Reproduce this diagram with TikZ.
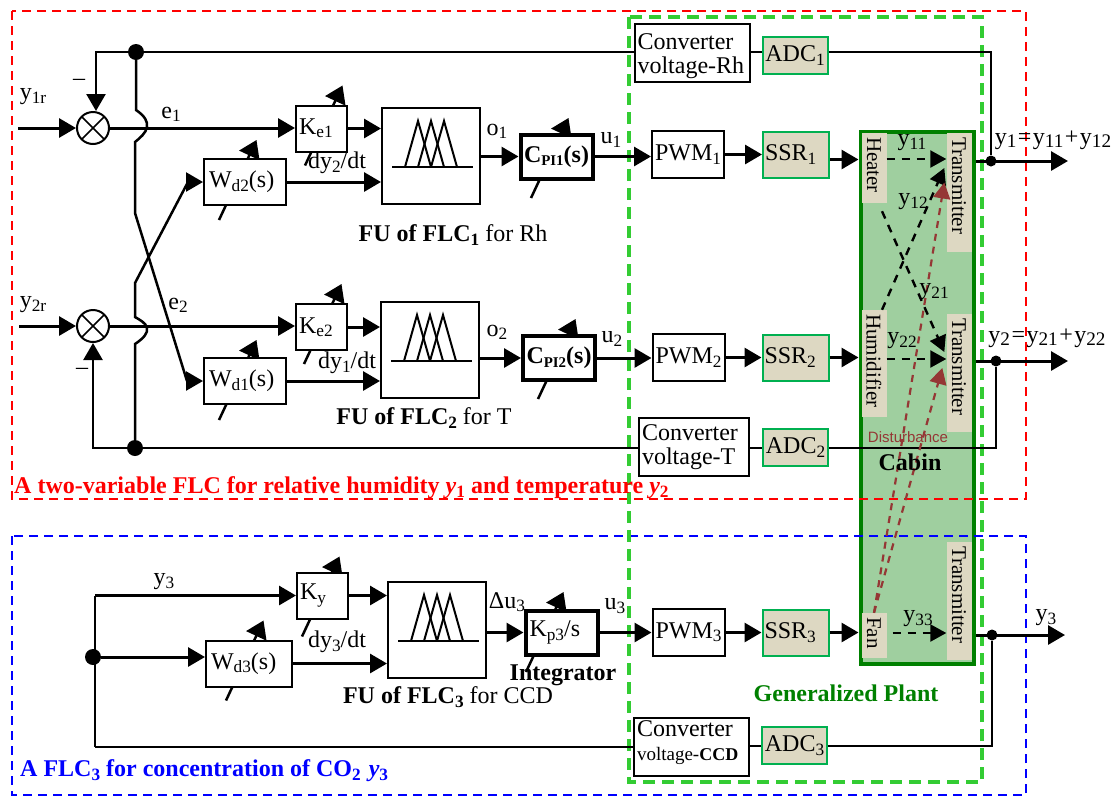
\documentclass[tikz,border=0pt]{standalone}
\usepackage{fontspec}
\setmainfont{Liberation Serif}
\newfontfamily\dstfont{Liberation Sans}
\usetikzlibrary{arrows.meta,positioning,backgrounds}
\definecolor{plantgreen}{HTML}{9FCF9F}
\definecolor{cabinedge}{HTML}{008000}
\definecolor{framegreen}{HTML}{33CC33}
\definecolor{ssrfill}{HTML}{DDD8C2}
\definecolor{ssredge}{HTML}{00B050}
\definecolor{brownred}{HTML}{953735}
\makeatletter
\newcommand{\idx}[2][.72]{\raisebox{-.3ex}{\fontsize{\strip@pt\dimexpr#1\dimexpr\f@size pt\relax\relax}{0}\selectfont #2}}
\makeatother

\begin{document}
\begin{tikzpicture}[
    x=1pt, y=-1pt,
    font=\fontsize{24}{24}\selectfont,
    box/.style={draw, line width=2pt, fill=white, align=left, inner sep=1pt},
    gainbox/.style={box, text width=45pt, inner xsep=3pt, minimum height=46pt},
    filterbox/.style={box, text width=72pt, inner xsep=5pt, minimum height=46pt},
    fubox/.style={box, minimum width=98pt, minimum height=96pt},
    pibox/.style={box, line width=4pt, align=center, minimum width=72pt, minimum height=44pt},
    pwmbox/.style={box, text width=66pt, inner xsep=3pt, minimum height=47pt},
    ssrbox/.style={box, draw=ssredge, fill=ssrfill, text width=62pt, inner xsep=2pt, minimum height=46pt},
    adcbox/.style={ssrbox, align=center, text width=61pt, minimum height=37pt},
    convbox/.style={box, text width=#1-6pt, inner xsep=3pt, minimum height=58pt},
    plantbox/.style={fill=ssrfill, rotate=-90, font=\fontsize{21}{22}\selectfont, align=left,
        inner xsep=4pt, inner ysep=0pt, minimum height=25pt, text width=#1-8pt},
    summer/.style={circle, draw, line width=2pt, fill=white, minimum size=32pt, inner sep=0pt,
        path picture={\draw[line width=1.5pt]
            (path picture bounding box.north west) -- (path picture bounding box.south east)
            (path picture bounding box.north east) -- (path picture bounding box.south west);}},
    dot/.style={circle, fill, inner sep=0pt, minimum size=#1},
    lab/.style={inner sep=0pt},
    arrow/.style={-{Triangle[length=17pt,width=19pt]}, line width=3pt},
    wire/.style={line width=2.5pt},
    feed/.style={line width=2pt},
    tune/.style={-{Triangle[length=17pt,width=22pt]}, line width=2.5pt},
    mf/.style={line width=2pt},
    inner/.style={-{Triangle[length=16pt,width=17pt]}, line width=2.4pt, dash pattern=on 8pt off 7pt},
    noise/.style={-{Triangle[length=16pt,width=17pt]}, draw=brownred, color=brownred, line width=2.2pt, dash pattern=on 7pt off 6pt},
    frame/.style={line width=2.6pt, dash pattern=on 9pt off 6pt}
]
\useasboundingbox (0,0) rectangle (1118,796);

% plant
\node[draw=cabinedge, fill=plantgreen, line width=4pt, minimum width=113pt, minimum height=532pt, inner sep=0pt] (cabin) at (917,397.5) {};
\node[plantbox=70pt] (heater) at (874,168) {Heater};
\node[plantbox=107pt] (hum) at (874,363.5) {Humidifier};
\node[plantbox=45pt] (fan) at (874,635.5) {Fan};
\node[plantbox=119pt] (tr1) at (959,192.5) {Transmitter};
\node[plantbox=118pt] (tr2) at (959,373) {Transmitter};
\node[plantbox=118pt] (tr3) at (959,601) {Transmitter};

% frames
\draw[frame, red] (12,11) rectangle (1026,499);
\draw[frame, blue] (12,536) rectangle (1026,795);
\draw[frame, framegreen, line width=4pt, dash pattern=on 12pt off 7pt] (629,17) rectangle (982,782);

% first loop
\node[summer] (sum1) at (93,128) {};
\node[gainbox] (ke1) at (321.5,128.5) {K\idx{e1}};
\node[filterbox] (wd2) at (245,182) {W\idx{d2}(s)};
\node[fubox] (fu1) at (431,156) {};
\node[pibox] (cpi1) at (556.5,156.5) {\textbf{C\idx[.62]{PI1}(s)}};
\node[pwmbox] (pwm1) at (688,154.5) {PWM\idx{1}};
\node[ssrbox, right=37pt of pwm1] (ssr1) {SSR\idx{1}};
\node[convbox=115pt] (conv1) at (692,53) {\rule{0pt}{23pt}Converter\\voltage-Rh};
\node[adcbox] (adc1) at (795,55.5) {ADC\idx{1}};

% second loop
\node[summer] (sum2) at (93,326) {};
\node[gainbox] (ke2) at (321.5,327) {K\idx{e2}};
\node[filterbox] (wd1) at (245,381) {W\idx{d1}(s)};
\node[fubox] (fu2) at (430,350) {};
\node[pibox] (cpi2) at (559,358) {\textbf{C\idx[.62]{PI2}(s)}};
\node[pwmbox] (pwm2) at (688.5,357.5) {PWM\idx{2}};
\node[ssrbox, right=36pt of pwm2] (ssr2) {SSR\idx{2}};
\node[convbox=110pt] (conv2) at (694,447) {Converter\\voltage-T};
\node[adcbox] (adc2) at (795.5,447.5) {ADC\idx{2}};

% third loop
\node[gainbox] (ky) at (322.5,595.5) {K\idx{y}};
\node[filterbox, text width=76pt] (wd3) at (249,663.5) {W\idx{d3}(s)};
\node[fubox] (fu3) at (437,630) {};
\node[pibox, align=left, text width=64pt, inner xsep=3pt] (kp3) at (561.5,632.5) {K\idx{p3}/s};
\node[pwmbox] (pwm3) at (688.5,632.5) {PWM\idx{3}};
\node[ssrbox, right=36pt of pwm3] (ssr3) {SSR\idx{3}};
\node[convbox=115pt] (conv3) at (691.5,746.5) {Converter\\{\fontsize{19}{21}\selectfont voltage-\textbf{\fontsize{18}{21}\selectfont CCD}}\rule[-12pt]{0pt}{12pt}};
\node[adcbox] (adc3) at (794.5,745.5) {ADC\idx{3}};

% junctions and free ends
\node[dot=16pt] (jfb1) at (136,52) {};
\node[dot=16pt] (jfb2) at (135,448) {};
\node[dot=16pt] (jy3) at (93,657) {};
\node[dot=11pt] (jout1) at (991,161) {};
\node[dot=11pt] (jout2) at (996,361) {};
\node[dot=11pt] (jout3) at (992,635) {};
\coordinate (jv3) at ([xshift=2pt]jy3.center);
\coordinate (in1) at (18,128);
\coordinate (in2) at (19,326);
\coordinate (out1) at (1068,161);
\coordinate (out2) at (1068,361);
\coordinate (out3) at (1065,635);

% membership functions
\foreach \f in {fu1,fu2,fu3} {
    \draw[mf] ([shift={(-39,11)}]\f.center) -- ++(81,0);
    \foreach \dx in {-13,0,13}
        \draw[mf] ([shift={(\dx-13,11)}]\f.center) -- ++(13,-46) -- ++(13,46);
}

% adjustable gains
\begin{scope}[on background layer]
\foreach \b/\dx/\dy in {ke1/-16.5/13, wd2/-26/14, wd1/-26/15, ke2/-17.5/13, cpi1/-25.5/17.5, cpi2/-21/17, ky/-20.5/17, wd3/-23/13, kp3/-35.5/15.5}
    \draw[tune] ([shift={(\dx,\dy)}]\b.south) -- ++(37.5,-80);
\end{scope}

% forward paths
\draw[arrow] (in1) -- (sum1.west);
\draw[arrow] (in2) -- (sum2.west);
\draw[arrow] (sum1.east) -- (sum1.east -| ke1.west);
\draw[arrow] (sum2.east) -- (sum2.east -| ke2.west);
\draw[arrow] (ke1.east) -- (ke1.east -| fu1.west);
\draw[arrow] (ke2.east) -- (ke2.east -| fu2.west);
\draw[arrow] (wd2.east) -- (wd2.east -| fu1.west);
\draw[arrow] (wd1.east) -- (wd1.east -| fu2.west);
\draw[arrow] (cpi1.west -| fu1.east) -- (cpi1.west);
\draw[arrow] (cpi2.west -| fu2.east) -- (cpi2.west);
\draw[arrow] (cpi1.east) -- (cpi1.east -| pwm1.west);
\draw[arrow] (cpi2.east) -- (cpi2.east -| pwm2.west);
\draw[arrow] (pwm1) -- (ssr1);
\draw[arrow] (pwm2) -- (ssr2);
\draw[arrow] ([yshift=-5pt]ssr1.east) -- ([yshift=-5pt]ssr1.east -| cabin.west);
\draw[arrow] (ssr2.east) -- (ssr2.east -| cabin.west);

\draw[arrow] (jv3 |- ky.west) -- (ky.west);
\draw[arrow] (ky.east) -- (ky.east -| fu3.west);
\draw[arrow] (jy3) -- (jy3 -| wd3.west);
\draw[arrow] (wd3.east) -- (wd3.east -| fu3.west);
\draw[arrow] (kp3.west -| fu3.east) -- (kp3.west);
\draw[arrow] (kp3.east) -- (kp3.east -| pwm3.west);
\draw[arrow] (pwm3) -- (ssr3);
\draw[arrow] (ssr3.east) -- (ssr3.east -| cabin.west);

% crossed feedback
\draw[wire, -{Triangle[length=17pt,width=19pt]}] (jfb1) -- (136,110) .. controls (145,116) and (148,122) .. (147,127) .. controls (146,133) and (140,138) .. (135,142) -- (135,213) -- (187,381) -- (wd1.west);
\draw[wire, -{Triangle[length=17pt,width=19pt]}] (jfb2) -- (135,344) .. controls (144,338) and (148,333) .. (147,328) .. controls (146,323) and (140,320) .. (135,317) -- (135,283) -- (188,182) -- (wd2.west);

% feedback lines
\draw[feed] (jfb1) -- (jfb1 -| conv1.west);
\draw[arrow, line width=2.5pt] (jfb1) -| ([xshift=3pt]sum1.north);
\draw[feed] (conv1.east |- jfb1) -- (adc1.west |- jfb1);
\draw[feed] (adc1.east |- jfb1) -| (jout1);
\draw[feed] (jfb2) -- (jfb2 -| conv2.west);
\draw[arrow, line width=2.5pt] (jfb2) -| (sum2.south);
\draw[feed] (conv2.east |- adc2.west) -- (adc2.west);
\draw[feed] (adc2.east) -| (jout2);
\draw[wire] (jv3 |- ky.west) -- (jv3 |- conv3.west);
\draw[feed] (jv3 |- conv3.west) -- (conv3.west);
\draw[feed] (conv3.east |- adc3.west) -- (adc3.west);
\draw[feed] (adc3.east) -| (jout3);

% outputs
\draw[arrow] (cabin.east |- out1) -- (out1);
\draw[arrow] (cabin.east |- out2) -- (out2);
\draw[arrow] (cabin.east |- out3) -- (out3);

% inside the cabin
\draw[inner] ([yshift=9pt]heater.north) -- ([yshift=9pt]heater.north -| tr1.south);
\draw[inner] ([yshift=4.5pt]hum.north) -- ([yshift=4.5pt]hum.north -| tr2.south);
\draw[inner] ([shift={(6,-2.5)}]fan.north) -- ([yshift=2.5pt]fan.north -| tr3.south);
\draw[inner] ([xshift=8pt]hum.west) -- ([shift={(-2,-24.5)}]tr1.south);
\draw[inner] ([xshift=8pt,yshift=-8pt]heater.east) -- ([shift={(-2,-21)}]tr2.south);
\draw[noise] (fan.west) -- ([shift={(-2,-10)}]tr1.south);
\draw[noise] (fan.west) -- ([shift={(-4,-5)}]tr2.south);

% signal labels
\node[lab] (ly1r) at (33,97) {y\idx{1r}};
\node[lab] (ly2r) at (33,305) {y\idx{2r}};
\node[lab] (lm1) at (79,82) {–};
\node[lab] (lm2) at (82,371) {–};
\node[lab] (le1) at (171,114) {e\idx{1}};
\node[lab] (le2) at (178,305) {e\idx{2}};
\node[lab] (ldy2) at (337,163) {dy\idx{2}/dt};
\node[lab] (ldy1) at (347,363) {dy\idx{1}/dt};
\node[lab] (ldy3) at (337,642) {dy\idx{3}/dt};
\node[lab] (lo1) at (497,131) {o\idx{1}};
\node[lab] (lo2) at (497,332) {o\idx{2}};
\node[lab] (lu1) at (611,140) {u\idx{1}};
\node[lab] (lu2) at (612,339) {u\idx{2}};
\node[lab] (lu3) at (615,606) {u\idx{3}};
\node[lab] (ldu) at (507,602) {Δu\idx{3}};
\node[lab] (ly3a) at (164,582) {y\idx{3}};
\node[lab] (ly3b) at (1046,618) {y\idx{3}};
\node[lab] (ly1) at (1053,140) {y\idx[.8]{1}\kern1.5pt=\kern1.5pt y\idx[.8]{11}\kern1.5pt+\kern1.5pt y\idx[.8]{12}};
\node[lab] (ly2) at (1047,338) {y\idx[.8]{2}\kern1.5pt=\kern1.5pt y\idx[.8]{21}\kern1.5pt+\kern1.5pt y\idx[.8]{22}};
\node[lab] (ly11) at (912,143) {y\idx{11}};
\node[lab] (ly12) at (913,202) {y\idx{12}};
\node[lab] (ly21) at (934,292) {y\idx{21}};
\node[lab] (ly22) at (902,341) {y\idx{22}};
\node[lab] (ly33) at (918,619) {y\idx{33}};

% captions
\node[lab] (cfu1) at (453,235) {\textbf{FU of FLC\idx{1}} for Rh};
\node[lab] (cfu2) at (424,418) {\textbf{FU of FLC\idx{2}} for T};
\node[lab] (cfu3) at (448,697) {\textbf{FU of FLC\idx{3}} for CCD};
\node[lab] (cint) at (563,675) {\textbf{Integrator}};
\node[lab, text=cabinedge] (cgen) at (846,693) {\textbf{Generalized Plant}};
\node[lab] (ccab) at (910,462) {\textbf{Cabin}};
\node[lab, text=brownred, font=\dstfont\fontsize{15}{18}\selectfont] (cdis) at (908,437) {Disturbance};
\node[lab, anchor=west, text=red] (cred) at (14,488) {\textbf{A two-variable FLC for relative humidity \textit{y}\idx{1} and temperature \textit{y}\idx{2}}};
\node[lab, anchor=west, text=blue] (cblue) at (20,771) {\textbf{A FLC\idx{3} for concentration of CO\idx{2}\ \kern2pt\textit{y}\idx{3}}};

\end{tikzpicture}
\end{document}
